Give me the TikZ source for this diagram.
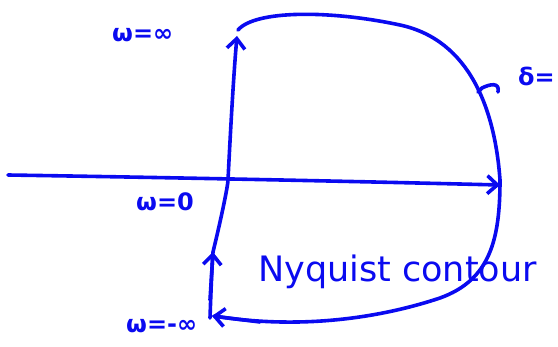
\documentclass[tikz,border=0pt]{standalone}
\usepackage{fontspec}
\setmainfont{DejaVu Sans}
\usetikzlibrary{arrows.meta}
\definecolor{ink}{RGB}{10,10,240}
\tikzset{
  pen/.style={draw=ink, line width=3.6pt, line cap=round, line join=round},
  tip/.style={-{Straight Barb[length=10pt,width=18pt,line width=3.6pt]}},
  lbl/.style={text=ink, inner sep=0pt, font=\bfseries\fontsize{24}{24}\selectfont},
}
\begin{document}
\begin{tikzpicture}[x=1pt,y=-1pt]
\useasboundingbox (0,0) rectangle (558,347);
% coordinates
\coordinate (axL) at (8,175);
\coordinate (axR) at (500,185);
\coordinate (top) at (237,36);
\coordinate (bot) at (210,318);
\coordinate (mid) at (228,180);
\coordinate (low) at (213,252);
\coordinate (lead) at (478,92);
% horizontal axis
\draw[pen,tip] (axL) .. controls (200,178) and (380,182) .. (axR);
% imaginary axis (upward)
\draw[pen] (bot) .. controls (211,290) and (212,265) .. (low);
\draw[pen,tip] (210,300) -- (low);
\draw[pen,tip] (low) .. controls (222,215) and (228,185) .. (mid) .. controls (231,120) and (234,70) .. (top);
% big contour
\draw[pen] (238,30) .. controls (255,10) and (330,10) .. (400,25)
  .. controls (470,40) and (495,110) .. (500,180)
  .. controls (500,240) and (490,280) .. (440,298)
  .. controls (380,318) and (300,330) .. (214,316);
\draw[pen,tip] (260,322) -- (212,316);
% leader
\draw[pen] (lead) -- (482,88) .. controls (490,84) and (500,82) .. (498,92);
% labels
\node[lbl, anchor=west] (wtop) at (112,35) {ω=∞};
\node[lbl, anchor=west] (delta) at (518,76) {δ=};
\node[lbl, anchor=west] (wzero) at (136,202) {ω=0};
\node[lbl, anchor=west] (wbot) at (126,326) {ω=-∞};
\node[lbl, anchor=west, font=\fontsize{35}{35}\selectfont] (nyq) at (258,272) {Nyquist contour};
\end{tikzpicture}
\end{document}
